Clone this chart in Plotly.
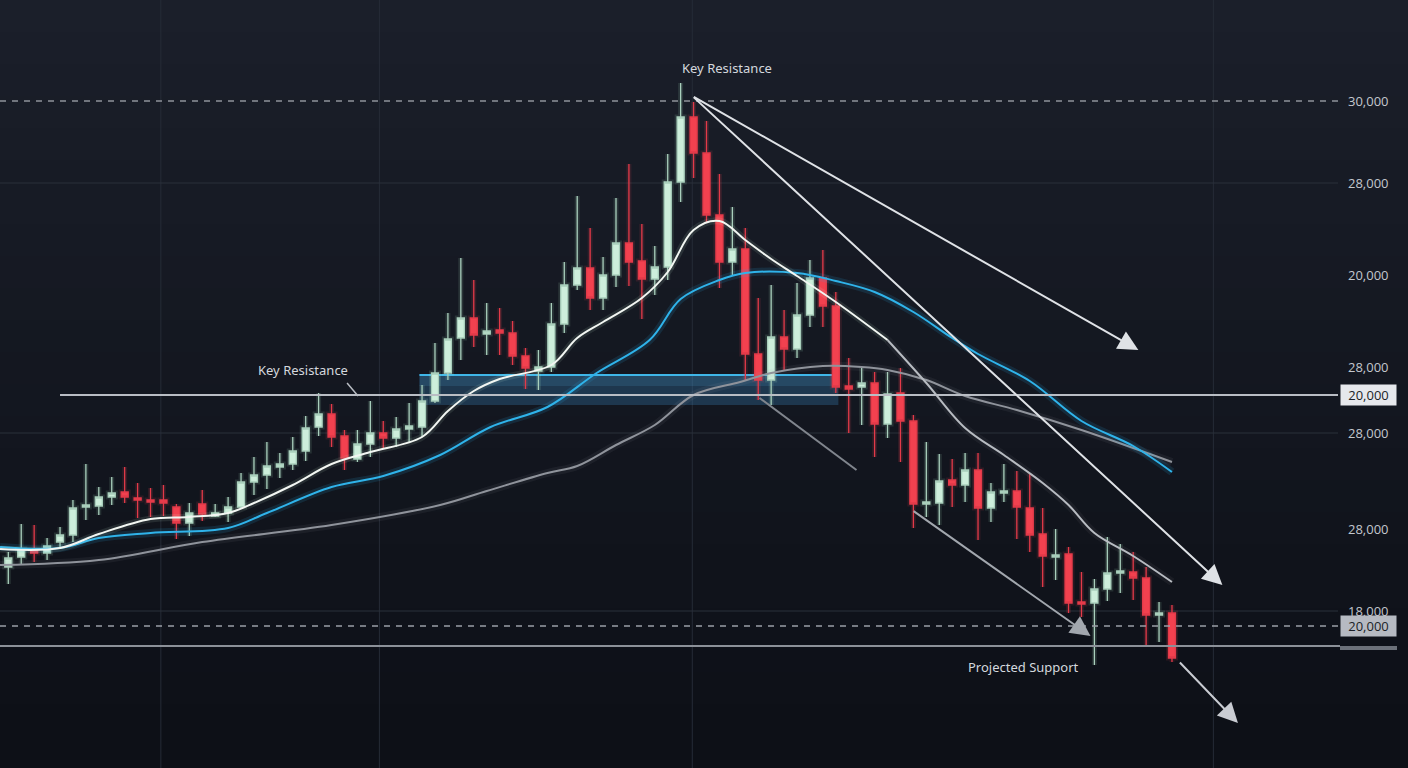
import plotly.graph_objects as go

# ---------------- data ----------------
candle_index = list(range(91))
open_ = [18350, 18600, 18775, 18700, 18975, 19150, 19850, 19875, 20100, 20225,
         20075, 20025, 20025, 19850, 19450, 19925, 19625, 19700, 19850, 20475,
         20650, 20850, 20925, 21250, 21850, 22175, 21625, 21050, 21425, 21700,
         21575, 21800, 21850, 22500, 23200, 24075, 24575, 24175, 24275, 24200,
         23625, 23250, 23350, 24425, 25400, 25825, 25075, 25650, 26450, 26000,
         25550, 25850, 27975, 29600, 28700, 27150, 25975, 26300, 23675, 23025,
         24100, 23800, 24650, 25575, 24875, 22875, 22850, 22950, 21925, 22700,
         22000, 19925, 19950, 20525, 20400, 20775, 19825, 20200, 20250, 19825,
         19175, 18600, 18675, 17475, 17450, 17800, 18200, 18225, 18075, 17150,
         17200]
high = [18725, 19425, 19400, 19075, 19350, 20025, 20925, 20350, 20600, 20850,
        20450, 20325, 20400, 19925, 19950, 20275, 19925, 20100, 20700, 21100,
        21475, 21200, 21600, 22125, 22700, 22425, 21775, 21775, 22500, 22000,
        22100, 22450, 22900, 23950, 24700, 26075, 25525, 24950, 24825, 24500,
        23825, 23775, 24950, 25975, 27625, 26825, 26100, 27575, 28425, 26925,
        26375, 28675, 30450, 29975, 29500, 28175, 27350, 26825, 25075, 25400,
        24775, 25450, 26025, 26275, 25225, 23575, 23325, 23225, 23225, 23325,
        22150, 21475, 21175, 21050, 21200, 21200, 20450, 20925, 20750, 20700,
        19825, 19300, 18850, 18225, 18050, 19100, 18925, 18725, 18350, 17475,
        17400]
low = [17925, 18425, 18475, 18525, 18850, 18975, 19525, 19650, 19900, 19950,
       19575, 19600, 19625, 19050, 19125, 19500, 19600, 19475, 19825, 20150,
       20300, 20575, 20775, 21000, 21625, 21350, 20775, 20975, 21100, 21300,
       21350, 21475, 21600, 22450, 23025, 23525, 23850, 23650, 23650, 23400,
       22800, 22775, 23225, 24200, 25275, 24775, 24775, 25350, 25375, 24550,
       25150, 25525, 27475, 28075, 26950, 25325, 25650, 23025, 22525, 22400,
       23275, 23575, 24350, 24350, 22700, 21700, 21900, 21100, 21575, 20975,
       19325, 19600, 19400, 19850, 19975, 19025, 19475, 19975, 19050, 18725,
       17850, 18025, 17200, 17100, 15900, 17500, 17700, 17525, 16400, 16475,
       15975]
close = [18575, 18800, 18700, 18875, 19150, 19825, 19900, 20100, 20200, 20100,
         20025, 19975, 19950, 19450, 19700, 19675, 19700, 19850, 20475, 20650,
         20875, 20925, 21250, 21825, 22175, 21600, 21075, 21425, 21700, 21575,
         21800, 21875, 22500, 23200, 24050, 24575, 24150, 24250, 24200, 23625,
         23325, 23350, 24425, 25400, 25825, 25075, 25650, 26450, 25975, 25550,
         25850, 27975, 29600, 28700, 27150, 25975, 26300, 23675, 23025, 24100,
         23800, 24650, 25575, 24875, 22850, 22800, 22950, 21925, 22675, 22000,
         19925, 19975, 20500, 20400, 20775, 19825, 20225, 20250, 19850, 19150,
         18625, 18650, 17450, 17425, 17800, 18200, 18250, 18075, 17150, 17200,
         16075]

# moving averages (x = candle index)
ma_fast_x = [-0.64, 4, 7, 11, 14, 17, 19, 22, 25, 28, 32, 34, 36, 38, 42, 44, 46,
             49, 51, 53, 55, 57, 59, 61, 64, 68]
ma_fast_y = [18800, 18825, 19175, 19550, 19600, 19700, 19950, 20400, 20925, 21225,
             21600, 22250, 22750, 23050, 23400, 24075, 24475, 25075, 25725, 26775,
             27000, 26525, 26050, 25625, 24975, 24025]
ma_fast2_x = [68, 71, 74, 77, 80, 82, 84, 87, 90]
ma_fast2_y = [24025, 22950, 21825, 21150, 20450, 19900, 19200, 18625, 17975]

ma_mid_x = [-0.64, 4, 7, 11, 17, 20, 25, 29, 33.4, 37.3, 41.7, 45.5, 49.6, 52, 55,
            57, 61, 64, 67, 70, 73, 75, 79, 83, 87, 90]
ma_mid_y = [18850, 18825, 19075, 19200, 19325, 19700, 20350, 20625, 21150, 21850,
            22350, 23200, 24025, 25050, 25525, 25700, 25700, 25500, 25225, 24725,
            24075, 23675, 23000, 22000, 21375, 20725]

ma_slow_x = [-0.64, 7, 15, 25, 33.4, 37, 41.7, 44, 47, 50, 53, 56.6, 59, 63, 66, 68,
             71, 74, 78, 83, 90]
ma_slow_y = [18400, 18525, 18975, 19400, 19900, 20250, 20700, 20875, 21400, 21900,
             22650, 22975, 23200, 23375, 23350, 23275, 23025, 22625, 22275, 21775,
             20975]

# axis labels (positions and the texts printed in the picture)
tick_vals = [30000, 27950, 25650, 23350, 21700, 19300, 17250]
tick_text = ["30,000", "28,000", "20,000", "28,000", "28,000", "28,000", "18,000"]
boxed_vals = [22650, 16875]
boxed_text = ["20,000", "20,000"]
grid_y = [27950, 21700, 17250]
grid_x = [11.8, 28.7, 52.9, 93.2]

# reference levels
resist_dash = 30000
resist_solid = 22650
support_dash = 16875
support_solid = 16375
zone = dict(x0=31.8, x1=64.2, y0=22400, y1=23175)

# trend arrows: (tail x, tail y, head x, head y, colour, width)
arrows = [
    (52.9, 30125, 87.4, 23775, "#dfe2e6", 2),
    (52.9, 30125, 93.9, 17900, "#dfe2e6", 2),
    (69.9, 19775, 83.7, 16625, "#a2a7ae", 2),
    (90.5, 16000, 95.1, 14450, "#c9ccd2", 2),
]
plain_line = (58.1, 22575, 65.6, 20775)

Y_MIN, Y_MAX = 13325, 32525
X_MIN, X_MAX = -0.642, 102.84

fig = go.Figure()

# background gradient bands
bands = 24
shapes = []
for k in range(bands):
    t = k / (bands - 1)
    r = int(13 + (27 - 13) * t)
    g = int(16 + (31 - 16) * t)
    b = int(23 + (42 - 23) * t)
    shapes.append(dict(type="rect", xref="paper", yref="paper",
                       x0=0, x1=1.06, y0=k / bands, y1=(k + 1) / bands,
                       fillcolor=f"rgb({r},{g},{b})", line=dict(width=0),
                       layer="below"))
for gx in grid_x:
    shapes.append(dict(type="line", xref="x", yref="paper", x0=gx, x1=gx, y0=0, y1=1,
                       line=dict(color="#262c37", width=1), layer="below"))
for gy in grid_y:
    shapes.append(dict(type="line", xref="paper", yref="y", x0=0, x1=1, y0=gy, y1=gy,
                       line=dict(color="#2a303b", width=1), layer="below"))

# zone
shapes.append(dict(type="rect", xref="x", yref="y", x0=zone["x0"], x1=zone["x1"],
                   y0=zone["y0"], y1=zone["y1"], fillcolor="rgba(55,130,185,0.30)",
                   line=dict(width=0), layer="below"))
shapes.append(dict(type="rect", xref="x", yref="y", x0=zone["x0"], x1=zone["x1"],
                   y0=zone["y1"] - 300, y1=zone["y1"], fillcolor="rgba(80,170,220,0.16)",
                   line=dict(width=0), layer="below"))
shapes.append(dict(type="line", xref="x", yref="y", x0=zone["x0"], x1=zone["x1"],
                   y0=zone["y1"] - 25, y1=zone["y1"] - 25,
                   line=dict(color="#3fb6e8", width=2), layer="below"))

# horizontal levels
shapes.append(dict(type="line", xref="paper", yref="y", x0=0, x1=1, y0=resist_dash,
                   y1=resist_dash, line=dict(color="#8e939b", width=1.5, dash="6px,6px")))
shapes.append(dict(type="line", xref="x", yref="y", x0=4.0, x1=X_MAX, y0=resist_solid,
                   y1=resist_solid, line=dict(color="#b9bdc4", width=2)))
shapes.append(dict(type="line", xref="paper", yref="y", x0=0, x1=1, y0=support_dash,
                   y1=support_dash, line=dict(color="#9a9ea6", width=1.5, dash="6px,6px")))
shapes.append(dict(type="line", xref="paper", yref="y", x0=0, x1=1.0015, y0=support_solid,
                   y1=support_solid, line=dict(color="#8b9098", width=2)))
shapes.append(dict(type="rect", xref="paper", yref="y", x0=1.0015, x1=1.0441,
                   y0=support_solid - 100, y1=support_solid, fillcolor="#6b7079",
                   line=dict(width=0)))
# leader line for left label + plain trend line
shapes.append(dict(type="line", xref="x", yref="y", x0=26.2, x1=27.05, y0=22950,
                   y1=22625, line=dict(color="#b9bdc4", width=1.5)))
shapes.append(dict(type="line", xref="x", yref="y", x0=plain_line[0], x1=plain_line[2],
                   y0=plain_line[1], y1=plain_line[3], line=dict(color="#80858d", width=2)))


def glow_line(x, y, color, glow, width=2, glow_width=8):
    fig.add_trace(go.Scatter(x=x, y=y, mode="lines", line=dict(color=glow, width=glow_width,
                  shape="spline", smoothing=1.0), hoverinfo="skip", showlegend=False))
    fig.add_trace(go.Scatter(x=x, y=y, mode="lines", line=dict(color=color, width=width,
                  shape="spline", smoothing=1.0), hoverinfo="skip", showlegend=False))


glow_line(ma_slow_x, ma_slow_y, "#8f939b", "rgba(160,165,175,0.08)")
glow_line(ma_mid_x, ma_mid_y, "#2fb3ea", "rgba(40,170,230,0.14)")
glow_line(ma_fast_x, ma_fast_y, "#f2f6f2", "rgba(220,255,230,0.10)", glow_width=7)
glow_line(ma_fast2_x, ma_fast2_y, "#b7bbc1", "rgba(200,205,210,0.06)")

# candle glow
fig.add_trace(go.Candlestick(
    x=candle_index, open=open_, high=high, low=low, close=close,
    increasing=dict(fillcolor="rgba(200,255,220,0.12)", line=dict(color="rgba(190,255,215,0.12)", width=5)),
    decreasing=dict(fillcolor="rgba(255,70,90,0.12)", line=dict(color="rgba(255,70,90,0.12)", width=5)),
    hoverinfo="skip", showlegend=False))
fig.add_trace(go.Candlestick(
    x=candle_index, open=open_, high=high, low=low, close=close,
    increasing=dict(fillcolor="#cdeedb", line=dict(color="#a9cfbc", width=1.3)),
    decreasing=dict(fillcolor="#f2414f", line=dict(color="#e33a49", width=1.3)),
    hoverinfo="skip", showlegend=False))

annotations = []
for (tx, ty, hx, hy, col, w) in arrows:
    annotations.append(dict(x=hx, y=hy, ax=tx, ay=ty, xref="x", yref="y", axref="x",
                            ayref="y", showarrow=True, arrowhead=2, arrowsize=2,
                            arrowwidth=w, arrowcolor=col, text=""))

label_font = dict(family="Noto Sans, Open Sans, sans-serif", size=13, color="#d4d8de")
annotations.append(dict(x=55.58, y=30825, xref="x", yref="y", text="Key Resistance",
                        showarrow=False, font=label_font))
annotations.append(dict(x=22.79, y=23275, xref="x", yref="y", text="Key Resistance",
                        showarrow=False, font=label_font))
annotations.append(dict(x=78.55, y=15850, xref="x", yref="y", text="Projected Support",
                        showarrow=False, font=label_font))

box_colors = ["#e6e8ec", "#b6bac2"]
for v, t, c in zip(boxed_vals, boxed_text, box_colors):
    annotations.append(dict(x=1.0228, y=v, xref="paper", yref="y", text=t,
                            xanchor="center", yanchor="middle",
                            showarrow=False, bgcolor=c, width=53, height=18,
                            borderpad=1, font=dict(family="Open Sans, sans-serif",
                                                   size=13, color="#1b1f27")))

fig.update_layout(
    width=1408, height=768,
    margin=dict(l=0, r=70, t=0, b=0),
    paper_bgcolor="#131720", plot_bgcolor="#131720",
    showlegend=False, hovermode=False,
    boxgap=0.22,
    shapes=shapes, annotations=annotations,
    xaxis=dict(range=[X_MIN, X_MAX], showgrid=False, zeroline=False, showticklabels=False,
               rangeslider=dict(visible=False), showline=False, ticks=""),
    yaxis=dict(range=[Y_MIN, Y_MAX], side="right", showgrid=False, zeroline=False,
               tickvals=tick_vals, ticktext=tick_text, ticks="", ticklabelstandoff=9,
               tickfont=dict(family="Open Sans, sans-serif", size=13, color="#c3c7ce"),
               showline=False),
)

fig.write_html("out.html", config={"displayModeBar": False},
               post_script="document.body.style.margin='0';document.body.style.overflow='hidden';document.body.style.background='#131720';")
